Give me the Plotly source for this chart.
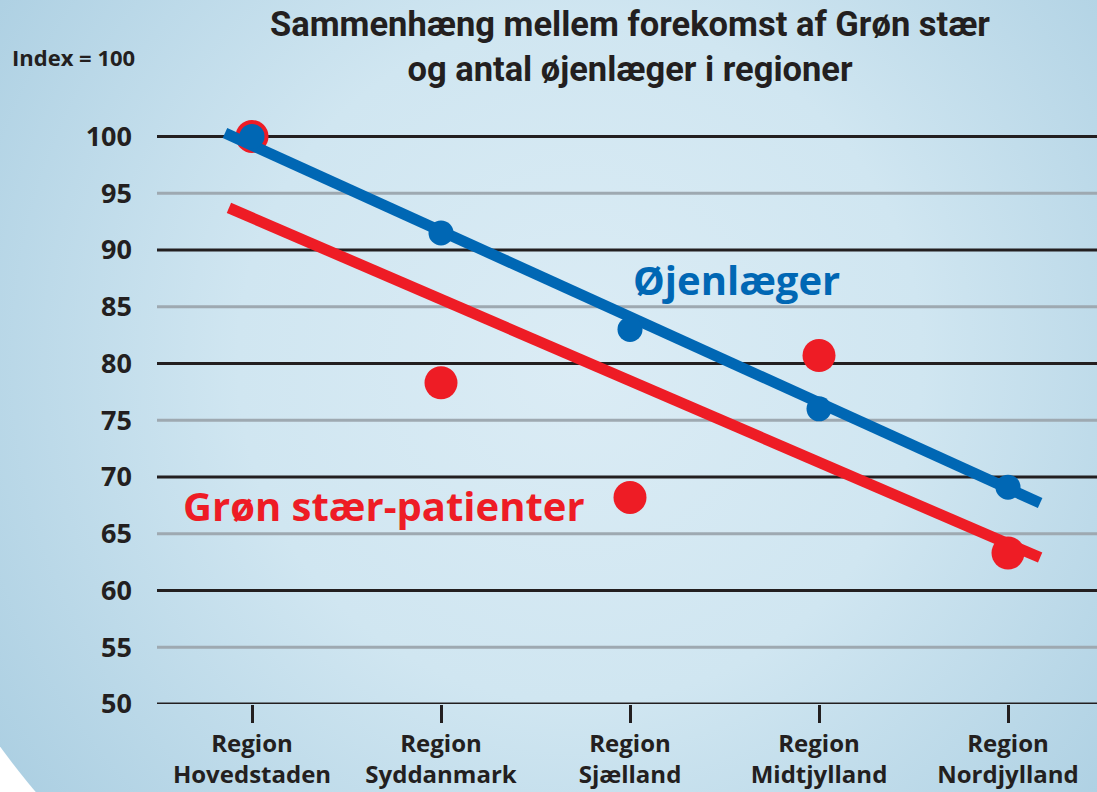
import base64
import plotly.graph_objects as go

# ---- data ----
regions = ["Region<br>Hovedstaden", "Region<br>Syddanmark", "Region<br>Sjælland",
           "Region<br>Midtjylland", "Region<br>Nordjylland"]
region_pos = [0, 1, 2, 3, 4]
ojenlaeger = [100, 91.5, 83.0, 76.0, 69.1]
groen_staer = [100, 78.3, 68.2, 80.7, 63.3]
blue_trend_x = [-0.143, 4.17]
blue_trend_y = [100.3, 67.7]
red_trend_x = [-0.122, 4.17]
red_trend_y = [93.7, 62.9]
y_ticks = [50, 55, 60, 65, 70, 75, 80, 85, 90, 95, 100]

BLUE = "#0067b4"
RED = "#ee1c25"
INK = "#231f20"
FONT = "Open Sans"

W, H = 1097, 792
L, R, T, B = 157, 0, 91, 88
PW, PH = W - L - R, H - T - B

# background: light-blue radial gradient disc, white outside
svg = f'''<svg xmlns="http://www.w3.org/2000/svg" width="{W}" height="{H}" viewBox="0 0 {W} {H}">
<defs><radialGradient id="g" gradientUnits="userSpaceOnUse" cx="580" cy="360" r="760">
<stop offset="0" stop-color="#dbecf5"/><stop offset="0.45" stop-color="#d0e6f1"/>
<stop offset="1" stop-color="#a7cce0"/></radialGradient></defs>
<rect width="{W}" height="{H}" fill="#ffffff"/>
<circle cx="640" cy="280" r="792" fill="url(#g)"/></svg>'''
src = "data:image/svg+xml;base64," + base64.b64encode(svg.encode()).decode()

fig = go.Figure()
fig.add_trace(go.Scatter(x=red_trend_x, y=red_trend_y, mode="lines",
                         line=dict(color=RED, width=11), hoverinfo="skip", showlegend=False))
fig.add_trace(go.Scatter(x=region_pos, y=groen_staer, mode="markers",
                         marker=dict(color=RED, size=33), name="Grøn stær-patienter", showlegend=False))
fig.add_trace(go.Scatter(x=blue_trend_x, y=blue_trend_y, mode="lines",
                         line=dict(color=BLUE, width=11), hoverinfo="skip", showlegend=False))
fig.add_trace(go.Scatter(x=region_pos, y=ojenlaeger, mode="markers",
                         marker=dict(color=BLUE, size=25), name="Øjenlæger", showlegend=False))

for v in y_ticks:
    fig.add_shape(type="line", xref="paper", x0=0, x1=1, yref="y", y0=v, y1=v,
                  line=dict(color=INK if v % 10 == 0 else "#9ea9b1", width=3), layer="below")

x0 = (L - 252) / 189
x1 = (W - 252) / 189

fig.update_layout(
    width=W, height=H,
    margin=dict(l=L, r=R, t=T, b=B),
    paper_bgcolor="white", plot_bgcolor="rgba(0,0,0,0)",
    font=dict(family=FONT, color=INK),
    images=[dict(source=src, xref="paper", yref="paper", x=-L / PW, y=1 + T / PH,
                 sizex=W / PW, sizey=H / PH, xanchor="left", yanchor="top",
                 sizing="stretch", layer="below")],
    xaxis=dict(range=[x0, x1], tickvals=region_pos, ticktext=regions, showgrid=False,
               zeroline=False, showline=False, ticks="outside", ticklen=18, tickwidth=3,
               tickcolor=INK, tickfont=dict(family=FONT, size=24, color=INK, weight="bold")),
    yaxis=dict(range=[50, 104], tickvals=y_ticks, showgrid=False, zeroline=False,
               showline=False, ticks="", ticklabelstandoff=24,
               tickfont=dict(family=FONT, size=27, color=INK, weight="bold")),
    annotations=[
        dict(text="Sammenhæng mellem forekomst af Grøn stær<br>og antal øjenlæger i regioner",
             xref="paper", yref="paper", x=(630 - L) / PW, y=1 + (T - 47) / PH,
             xanchor="center", yanchor="middle", showarrow=False,
             font=dict(family="Roboto", size=34.5, color=INK, weight="bold")),
        dict(text="Index = 100", xref="paper", yref="paper", x=(10 - L) / PW,
             y=1 + (T - 57) / PH, xanchor="left", yanchor="middle", showarrow=False,
             font=dict(family=FONT, size=22, color=INK, weight="bold")),
        dict(text="Øjenlæger", x=2.566, y=87.4, xref="x", yref="y", showarrow=False,
             xanchor="center", yanchor="middle",
             font=dict(family=FONT, size=40, color=BLUE, weight="bold")),
        dict(text="Grøn stær-patienter", x=0.698, y=67.5, xref="x", yref="y", showarrow=False,
             xanchor="center", yanchor="middle",
             font=dict(family=FONT, size=40, color=RED, weight="bold")),
    ],
)

fig.write_html("out.html", config={"displayModeBar": False},
               post_script="document.body.style.margin='0';document.body.style.overflow='hidden';")
